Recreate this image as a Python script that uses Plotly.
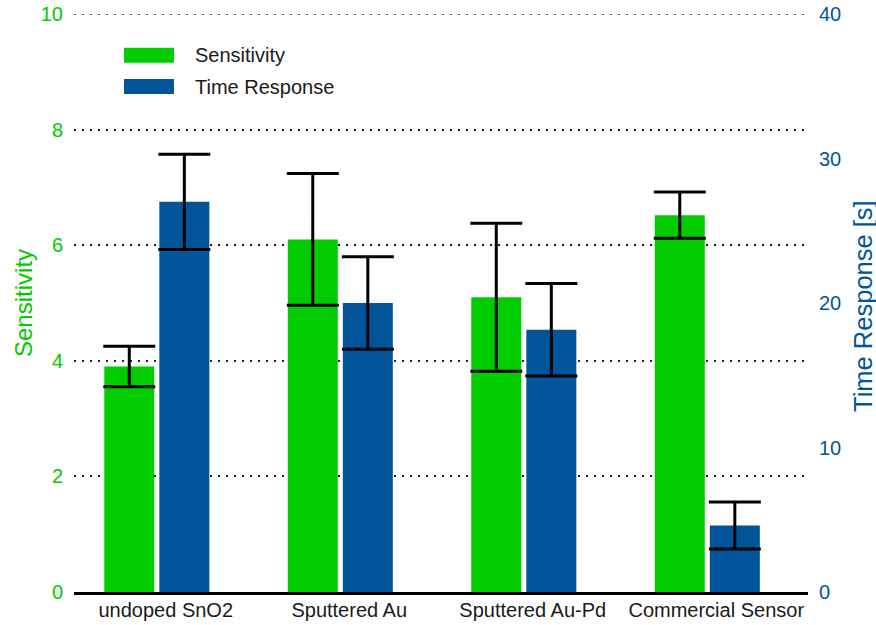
import plotly.graph_objects as go

# Sensor comparison data
categories = ["undoped SnO2", "Sputtered Au", "Sputtered Au-Pd", "Commercial Sensor"]
sensitivity = [3.9, 6.1, 5.1, 6.52]
sensitivity_err = [0.35, 1.14, 1.28, 0.4]
time_response = [27.0, 20.0, 18.15, 4.6]
time_response_err = [3.3, 3.2, 3.2, 1.62]
sens_ticks = [0, 2, 4, 6, 8, 10]
time_ticks = [0, 10, 20, 30, 40]

GREEN = "#00CC00"
BLUE = "#00559A"
FONT = "Liberation Sans, Arial, Helvetica, sans-serif"
GRID = dict(color="#222222", width=1.5, dash="2px,6px")

fig = go.Figure()

fig.add_trace(go.Bar(
    x=categories, y=sensitivity, name="Sensitivity",
    marker=dict(color=GREEN, line=dict(width=0)),
    width=0.2725, offset=-0.335, yaxis="y",
    error_y=dict(type="data", array=sensitivity_err, color="black",
                 thickness=3, width=26),
))
fig.add_trace(go.Bar(
    x=categories, y=time_response, name="Time Response",
    marker=dict(color=BLUE, line=dict(width=0)),
    width=0.2725, offset=-0.035, yaxis="y2",
    error_y=dict(type="data", array=time_response_err, color="black",
                 thickness=3, width=26),
))

fig.update_layout(
    width=876, height=625,
    margin=dict(l=74, r=68, t=14, b=33),
    paper_bgcolor="white", plot_bgcolor="white",
    barmode="overlay",
    showlegend=False,
    font=dict(family=FONT, size=20, color="#1a1a1a"),
    xaxis=dict(
        type="category", range=[-0.5, 3.5], automargin=False,
        showline=True, linecolor="black", linewidth=2.5,
        showgrid=False, ticks="", ticklabelstandoff=-2,
        tickfont=dict(size=20, color="#1a1a1a"),
    ),
    yaxis=dict(
        range=[0, 10], tickvals=sens_ticks, automargin=False,
        showgrid=True, gridcolor=GRID["color"], gridwidth=GRID["width"],
        griddash=GRID["dash"],
        zeroline=False, showline=False, ticks="",
        ticklabelstandoff=10,
        tickfont=dict(size=20, color=GREEN),
    ),
    yaxis2=dict(
        range=[0, 40], tickvals=time_ticks, overlaying="y", side="right",
        automargin=False,
        showgrid=False, zeroline=False, showline=False, ticks="",
        ticklabelstandoff=10,
        tickfont=dict(size=20, color=BLUE),
    ),
)

# Dotted gridline along the top edge of the plot (y = 10)
fig.add_shape(type="line", xref="paper", yref="y", x0=0, x1=1,
              y0=sens_ticks[-1], y1=sens_ticks[-1], layer="below",
              line=GRID)

# Axis titles
fig.add_annotation(text="Sensitivity", x=-0.0695, y=0.5, xref="paper", yref="paper",
                   textangle=-90, showarrow=False, xanchor="center", yanchor="middle",
                   font=dict(size=24, color=GREEN))
fig.add_annotation(text="Time Response [s]", x=1.075, y=0.495, xref="paper", yref="paper",
                   textangle=-90, showarrow=False, xanchor="center", yanchor="middle",
                   font=dict(size=25.5, color=BLUE))

# Legend drawn as wide swatches with labels
legend_items = [("Sensitivity", GREEN, 0.9158, 0.9417),
                ("Time Response", BLUE, 0.8616, 0.8875)]
for label, color, y0, y1 in legend_items:
    fig.add_shape(type="rect", xref="paper", yref="paper",
                  x0=0.0681, x1=0.1362, y0=y0, y1=y1,
                  fillcolor=color, line=dict(width=0))
    fig.add_annotation(text=label, x=0.1621, y=(y0 + y1) / 2,
                       xref="paper", yref="paper", showarrow=False,
                       xanchor="left", yanchor="middle",
                       font=dict(size=20, color="#1a1a1a"))

fig.write_html("out.html")
